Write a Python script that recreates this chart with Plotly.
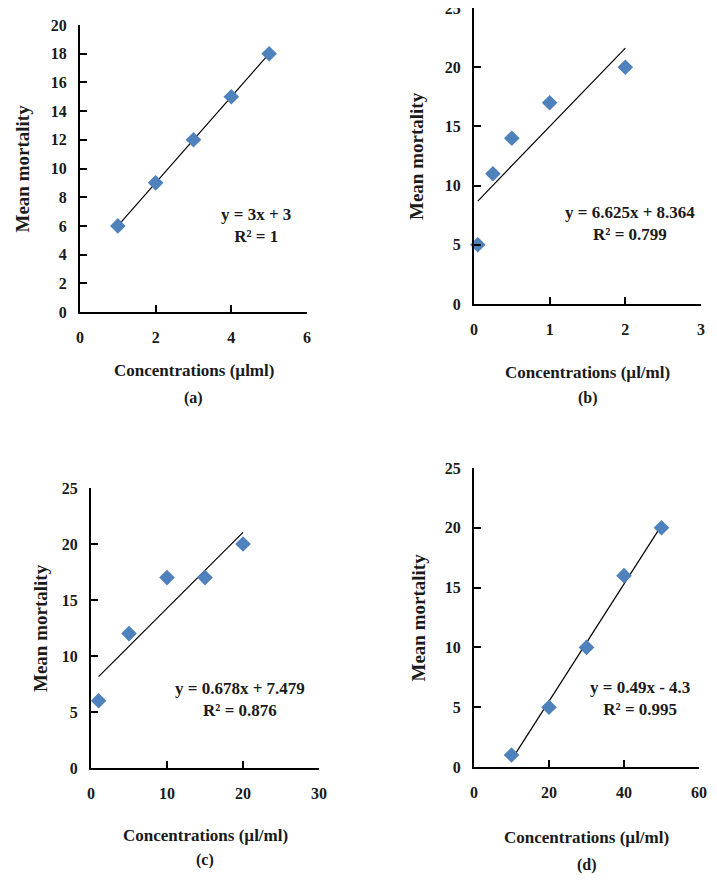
import plotly.graph_objects as go

# --------------------------------------------------------------------------- #
# Data                                               #
# --------------------------------------------------------------------------- #

conc_a = [1, 2, 3, 4, 5]
mort_a = [6, 9, 12, 15, 18]

conc_b = [0.05, 0.25, 0.5, 1, 2]
mort_b = [5, 11, 14, 17, 20]

conc_c = [1, 5, 10, 15, 20]
mort_c = [6, 12, 17, 17, 20]

conc_d = [10, 20, 30, 40, 50]
mort_d = [1, 5, 10, 16, 20]

# printed trendline coefficients
slopes = [3, 6.625, 0.678, 0.49]
intercepts = [3, 8.364, 7.479, -4.3]
equations = [
    "y = 3x + 3<br>R² = 1",
    "y = 6.625x + 8.364<br>R² = 0.799",
    "y = 0.678x + 7.479<br>R² = 0.876",
    "y = 0.49x - 4.3<br>R² = 0.995",
]
panel_labels = ["(a)", "(b)", "(c)", "(d)"]
x_titles = [
    "Concentrations (µlml)",
    "Concentrations (µl/ml)",
    "Concentrations (µl/ml)",
    "Concentrations (µl/ml)",
]
x_ranges = [(0, 6), (0, 3), (0, 30), (0, 60)]
x_dticks = [2, 1, 10, 20]
y_ranges = [(0, 20), (0, 25), (0, 25), (0, 25)]
y_dticks = [2, 5, 5, 5]

# the page body adds an 8px margin, so the figure is drawn a bit smaller
OFF = 8
W, H = 717 - 2 * OFF, 884 - 2 * OFF
FONT = "Liberation Serif"
MARKER = "#4F81BD"
INK = "#1a1a1a"

# pixel boxes in the reference: (left, right, top, bottom)
boxes = [
    (80, 307, 25, 312),
    (474, 701, 8, 304),
    (91, 319, 488, 768),
    (474, 699, 468, 767),
]
# annotation positions in reference pixels
eq_pos = [(256, 225), (630, 223), (240, 699), (640, 698)]
ytitle_x = [22, 416, 40, 418]
xtitle_y = [370, 372, 835, 837]
label_y = [398, 398, 860, 865]


def px(x):
    return (x - OFF) / W


def py(y):
    return 1 - (y - OFF) / H


series = [(conc_a, mort_a), (conc_b, mort_b), (conc_c, mort_c), (conc_d, mort_d)]

fig = go.Figure()
annotations = []

for i, (xs, ys) in enumerate(series):
    n = "" if i == 0 else str(i + 1)
    xa, ya = f"x{n}", f"y{n}"
    left, right, top, bottom = boxes[i]

    # trendline between first and last concentration
    x0, x1 = min(xs), max(xs)
    fig.add_trace(
        go.Scatter(
            x=[x0, x1],
            y=[slopes[i] * x0 + intercepts[i], slopes[i] * x1 + intercepts[i]],
            mode="lines",
            line=dict(color="black", width=1.2),
            xaxis=xa,
            yaxis=ya,
            showlegend=False,
            hoverinfo="skip",
        )
    )
    fig.add_trace(
        go.Scatter(
            x=xs,
            y=ys,
            mode="markers",
            marker=dict(symbol="diamond", size=12, color=MARKER),
            xaxis=xa,
            yaxis=ya,
            showlegend=False,
            cliponaxis=False,
        )
    )

    axis_common = dict(
        showline=True,
        linecolor="black",
        linewidth=2,
        ticks="inside",
        ticklen=7,
        tickwidth=2,
        tickcolor="black",
        showgrid=False,
        zeroline=False,
        automargin=False,
        ticklabeloverflow="allow",
        tickfont=dict(family=FONT, size=16, color=INK, weight="bold"),
    )
    fig.layout[f"xaxis{n}"] = dict(
        axis_common,
        domain=[px(left), px(right)],
        range=list(x_ranges[i]),
        dtick=x_dticks[i],
        tick0=0,
        anchor=ya,
        ticklabelstandoff=10,
    )
    fig.layout[f"yaxis{n}"] = dict(
        axis_common,
        domain=[py(bottom), py(top)],
        range=list(y_ranges[i]),
        dtick=y_dticks[i],
        tick0=0,
        anchor=xa,
        ticklabelstandoff=8,
    )

    ex, ey = eq_pos[i]
    annotations.append(
        dict(
            x=px(ex), y=py(ey), xref="paper", yref="paper",
            xanchor="center", yanchor="middle",
            text=f"<b>{equations[i]}</b>", showarrow=False, align="center",
            font=dict(family=FONT, size=17, color=INK),
        )
    )
    annotations.append(
        dict(
            x=px(ytitle_x[i]), y=py((top + bottom) / 2), xref="paper", yref="paper",
            xanchor="center", yanchor="middle",
            text="<b>Mean mortality</b>", textangle=-90, showarrow=False,
            font=dict(family=FONT, size=19, color=INK),
        )
    )
    annotations.append(
        dict(
            x=px((left + right) / 2), y=py(xtitle_y[i]), xref="paper", yref="paper",
            xanchor="center", yanchor="middle",
            text=f"<b>{x_titles[i]}</b>", showarrow=False,
            font=dict(family=FONT, size=17, color=INK),
        )
    )
    annotations.append(
        dict(
            x=px((left + right) / 2), y=py(label_y[i]), xref="paper", yref="paper",
            xanchor="center", yanchor="middle",
            text=f"<b>{panel_labels[i]}</b>", showarrow=False,
            font=dict(family=FONT, size=16, color=INK),
        )
    )

fig.update_layout(
    width=W,
    height=H,
    margin=dict(l=0, r=0, t=0, b=0),
    paper_bgcolor="white",
    plot_bgcolor="white",
    annotations=annotations,
    showlegend=False,
)

fig.write_html("out.html")
